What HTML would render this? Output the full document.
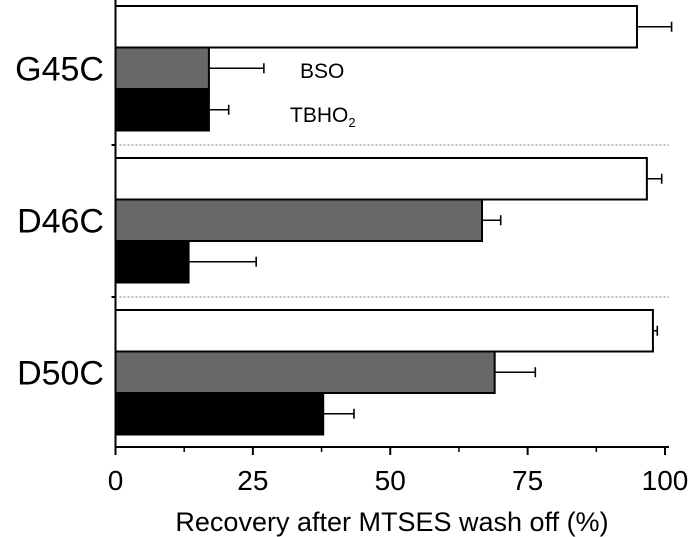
<!DOCTYPE html>
<html><head><meta charset="utf-8"><style>
html,body{margin:0;padding:0;background:#fff;}
svg{display:block;font-family:"Liberation Sans",Arial,sans-serif;}
</style></head><body>
<svg id="chart" width="694" height="537" viewBox="0 0 694 537"></svg>
<script>
const groups = ["G45C","D46C","D50C"];
const controlVals = [94.9, 96.7, 97.8];
const controlErr = [6.3, 2.7, 0.8];
const bsoVals = [17, 66.7, 69];
const bsoErr = [10, 3.4, 7.4];
const tbhoVals = [17, 13.3, 37.8];
const tbhoErr = [3.6, 12.3, 5.6];
const xTicks = [0, 25, 50, 75, 100];
const xMinor = [12.5, 37.5, 62.5, 87.5];

const NS = "http://www.w3.org/2000/svg";
const svg = document.getElementById("chart");
const x0 = 115.5, xs = 5.495;
function X(v){ return x0 + v * xs; }
const groupTop0 = 6, groupStep = 152, barH = 41.5;
function barY(g, s){ return groupTop0 + g * groupStep + s * barH; }
function mk(tag, attrs){ const e = document.createElementNS(NS, tag); for (const k in attrs) e.setAttribute(k, attrs[k]); svg.appendChild(e); return e; }

const series = [
  {vals: controlVals, err: controlErr, fill: "#fff", name: "control"},
  {vals: bsoVals, err: bsoErr, fill: "#686868", name: "bso"},
  {vals: tbhoVals, err: tbhoErr, fill: "#000", name: "tbho2"}
];
groups.forEach((g, gi) => {
  series.forEach((s, si) => {
    const y = barY(gi, si);
    const r = mk("rect", {x: X(0), y: y, width: X(s.vals[gi]) - X(0), height: barH, fill: s.fill, stroke: "#000", "stroke-width": 2});
    
    
    const cy = y + barH / 2;
    const xe = X(s.vals[gi] + s.err[gi]);
    const el = mk("path", {d: `M${X(s.vals[gi])},${cy}H${xe}M${xe},${cy-5}V${cy+5}`, stroke: "#000", "stroke-width": 1.6, fill: "none"});
    
    
  });
  const t = mk("text", {x: 104, y: barY(gi, 1) + barH/2 + 12, "text-anchor": "end", "font-size": 34});
  t.textContent = g;
  
  
  if (gi > 0) {
    const yy = groupTop0 + gi * groupStep - 13;
    const d = mk("line", {x1: X(0) + 4, x2: 669, y1: yy, y2: yy, stroke: "#aaa", "stroke-width": 1.5, "stroke-dasharray": "2,2"});
    
    
    const tk = mk("line", {x1: X(0) - 4, x2: X(0), y1: yy, y2: yy, stroke: "#000", "stroke-width": 2});
    
    
  }
});

const yAx = mk("line", {x1: X(0), x2: X(0), y1: 0, y2: 447, stroke: "#000", "stroke-width": 2});


const xAx = mk("line", {x1: X(0) - 1, x2: 669, y1: 447, y2: 447, stroke: "#000", "stroke-width": 2});


xTicks.forEach(v => {
  const l = mk("line", {x1: X(v), x2: X(v), y1: 447, y2: 455, stroke: "#000", "stroke-width": 2});
  
  
  const t = mk("text", {x: X(v), y: 490, "text-anchor": "middle", "font-size": 28});
  t.textContent = v;
  
  
});
xMinor.forEach(v => {
  const l = mk("line", {x1: X(v), x2: X(v), y1: 447, y2: 452, stroke: "#000", "stroke-width": 1.5});
  
  
});
</script>
<svg style="position:absolute;left:0;top:0" width="694" height="537">
<text x="392" y="531" text-anchor="middle" font-size="27" font-family="Liberation Sans, sans-serif">Recovery after MTSES wash off (%)</text>
<text x="300" y="78" font-size="21" font-family="Liberation Sans, sans-serif">BSO</text>
<text x="290" y="122" font-size="21" font-family="Liberation Sans, sans-serif">TBHO<tspan font-size="13" dy="5">2</tspan></text>
</svg>
</body></html>
